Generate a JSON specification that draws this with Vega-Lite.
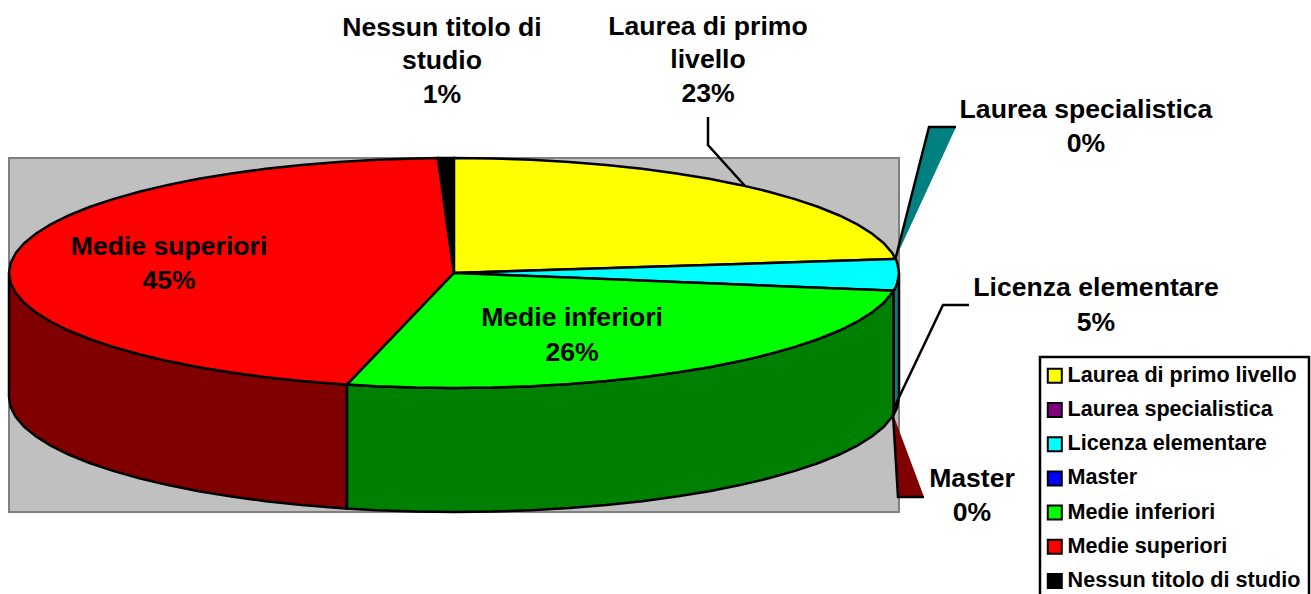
{"$schema":"https://vega.github.io/schema/vega-lite/v6.json","width":1311,"height":594,"padding":0,"autosize":{"type":"none"},"background":"white","view":{"stroke":null},
"datasets":{
"frame":[{"x":9,"x2":899,"y":158,"y2":512}],
"legendBox":[{"x":1040,"x2":1309,"y":357,"y2":600}],
"tops":[
{"part":"Medie superiori","x":9,"y":273,"y2":273},{"part":"Medie superiori","x":10.7,"y":263,"y2":283},{"part":"Medie superiori","x":15.8,"y":253,"y2":293},{"part":"Medie superiori","x":24.2,"y":243.2,"y2":302.8},{"part":"Medie superiori","x":35.8,"y":233.7,"y2":312.3},{"part":"Medie superiori","x":50.7,"y":224.4,"y2":321.6},{"part":"Medie superiori","x":68.6,"y":215.5,"y2":330.5},{"part":"Medie superiori","x":89.5,"y":207,"y2":339},{"part":"Medie superiori","x":113.1,"y":199.1,"y2":346.9},{"part":"Medie superiori","x":139.3,"y":191.7,"y2":354.3},{"part":"Medie superiori","x":168,"y":184.9,"y2":361.1},{"part":"Medie superiori","x":198.8,"y":178.8,"y2":367.2},{"part":"Medie superiori","x":231.5,"y":173.4,"y2":372.6},{"part":"Medie superiori","x":265.9,"y":168.8,"y2":377.2},{"part":"Medie superiori","x":301.8,"y":164.9,"y2":381.1},{"part":"Medie superiori","x":338.8,"y":161.9,"y2":384.1},{"part":"Medie superiori","x":347,"y":161.4,"y2":384.6},{"part":"Medie superiori","x":376.7,"y":159.7,"y2":353.6},{"part":"Medie superiori","x":415.2,"y":158.4,"y2":313.5},{"part":"Medie superiori","x":438,"y":158.1,"y2":289.7},{"part":"Medie superiori","x":454,"y":273,"y2":273},
{"part":"Nessun titolo di studio","x":438,"y":158.1,"y2":158.1},{"part":"Nessun titolo di studio","x":454,"y":158,"y2":273},
{"part":"Laurea di primo livello","x":454,"y":158,"y2":273},{"part":"Laurea di primo livello","x":492.8,"y":158.4,"y2":271.8},{"part":"Laurea di primo livello","x":531.3,"y":159.7,"y2":270.5},{"part":"Laurea di primo livello","x":569.2,"y":161.9,"y2":269.3},{"part":"Laurea di primo livello","x":606.2,"y":164.9,"y2":268.2},{"part":"Laurea di primo livello","x":642.1,"y":168.8,"y2":267},{"part":"Laurea di primo livello","x":676.5,"y":173.4,"y2":265.9},{"part":"Laurea di primo livello","x":709.2,"y":178.8,"y2":264.9},{"part":"Laurea di primo livello","x":740,"y":184.9,"y2":263.9},{"part":"Laurea di primo livello","x":768.7,"y":191.7,"y2":263},{"part":"Laurea di primo livello","x":794.9,"y":199.1,"y2":262.2},{"part":"Laurea di primo livello","x":818.5,"y":207,"y2":261.4},{"part":"Laurea di primo livello","x":839.4,"y":215.5,"y2":260.8},{"part":"Laurea di primo livello","x":857.3,"y":224.4,"y2":260.2},{"part":"Laurea di primo livello","x":872.2,"y":233.7,"y2":259.7},{"part":"Laurea di primo livello","x":883.8,"y":243.2,"y2":259.4},{"part":"Laurea di primo livello","x":892.2,"y":253,"y2":259.1},{"part":"Laurea di primo livello","x":895.7,"y":259,"y2":259},
{"part":"Licenza elementare","x":454,"y":273,"y2":273},{"part":"Licenza elementare","x":893.7,"y":259.1,"y2":290.7},{"part":"Licenza elementare","x":895.7,"y":259,"y2":287},{"part":"Licenza elementare","x":897.3,"y":263,"y2":283},{"part":"Licenza elementare","x":899,"y":273,"y2":273},
{"part":"Medie inferiori","x":347,"y":384.6,"y2":384.6},{"part":"Medie inferiori","x":376.7,"y":353.6,"y2":386.3},{"part":"Medie inferiori","x":415.2,"y":313.5,"y2":387.6},{"part":"Medie inferiori","x":454,"y":273,"y2":388},{"part":"Medie inferiori","x":492.8,"y":274.6,"y2":387.6},{"part":"Medie inferiori","x":531.3,"y":276.1,"y2":386.3},{"part":"Medie inferiori","x":569.2,"y":277.6,"y2":384.1},{"part":"Medie inferiori","x":606.2,"y":279.1,"y2":381.1},{"part":"Medie inferiori","x":642.1,"y":280.6,"y2":377.2},{"part":"Medie inferiori","x":676.5,"y":282,"y2":372.6},{"part":"Medie inferiori","x":709.2,"y":283.3,"y2":367.2},{"part":"Medie inferiori","x":740,"y":284.5,"y2":361.1},{"part":"Medie inferiori","x":768.7,"y":285.7,"y2":354.3},{"part":"Medie inferiori","x":794.9,"y":286.7,"y2":346.9},{"part":"Medie inferiori","x":818.5,"y":287.7,"y2":339},{"part":"Medie inferiori","x":839.4,"y":288.5,"y2":330.5},{"part":"Medie inferiori","x":857.3,"y":289.2,"y2":321.6},{"part":"Medie inferiori","x":872.2,"y":289.8,"y2":312.3},{"part":"Medie inferiori","x":883.8,"y":290.3,"y2":302.8},{"part":"Medie inferiori","x":893.7,"y":290.7,"y2":290.7}
],
"sides":[
{"part":"Medie superiori","x":9,"y":273,"y2":397},{"part":"Medie superiori","x":10.7,"y":283,"y2":407},{"part":"Medie superiori","x":15.8,"y":293,"y2":417},{"part":"Medie superiori","x":24.2,"y":302.8,"y2":426.8},{"part":"Medie superiori","x":35.8,"y":312.3,"y2":436.3},{"part":"Medie superiori","x":50.7,"y":321.6,"y2":445.6},{"part":"Medie superiori","x":68.6,"y":330.5,"y2":454.5},{"part":"Medie superiori","x":89.5,"y":339,"y2":463},{"part":"Medie superiori","x":113.1,"y":346.9,"y2":470.9},{"part":"Medie superiori","x":139.3,"y":354.3,"y2":478.3},{"part":"Medie superiori","x":168,"y":361.1,"y2":485.1},{"part":"Medie superiori","x":198.8,"y":367.2,"y2":491.2},{"part":"Medie superiori","x":231.5,"y":372.6,"y2":496.6},{"part":"Medie superiori","x":265.9,"y":377.2,"y2":501.2},{"part":"Medie superiori","x":301.8,"y":381.1,"y2":505.1},{"part":"Medie superiori","x":338.8,"y":384.1,"y2":508.1},{"part":"Medie superiori","x":347,"y":384.6,"y2":508.6},
{"part":"Medie inferiori","x":347,"y":384.6,"y2":508.6},{"part":"Medie inferiori","x":376.7,"y":386.3,"y2":510.3},{"part":"Medie inferiori","x":415.2,"y":387.6,"y2":511.6},{"part":"Medie inferiori","x":454,"y":388,"y2":512},{"part":"Medie inferiori","x":492.8,"y":387.6,"y2":511.6},{"part":"Medie inferiori","x":531.3,"y":386.3,"y2":510.3},{"part":"Medie inferiori","x":569.2,"y":384.1,"y2":508.1},{"part":"Medie inferiori","x":606.2,"y":381.1,"y2":505.1},{"part":"Medie inferiori","x":642.1,"y":377.2,"y2":501.2},{"part":"Medie inferiori","x":676.5,"y":372.6,"y2":496.6},{"part":"Medie inferiori","x":709.2,"y":367.2,"y2":491.2},{"part":"Medie inferiori","x":740,"y":361.1,"y2":485.1},{"part":"Medie inferiori","x":768.7,"y":354.3,"y2":478.3},{"part":"Medie inferiori","x":794.9,"y":346.9,"y2":470.9},{"part":"Medie inferiori","x":818.5,"y":339,"y2":463},{"part":"Medie inferiori","x":839.4,"y":330.5,"y2":454.5},{"part":"Medie inferiori","x":857.3,"y":321.6,"y2":445.6},{"part":"Medie inferiori","x":872.2,"y":312.3,"y2":436.3},{"part":"Medie inferiori","x":883.8,"y":302.8,"y2":426.8},{"part":"Medie inferiori","x":893.7,"y":290.7,"y2":414.7},
{"part":"Licenza elementare","x":893.7,"y":290.7,"y2":414.7},{"part":"Licenza elementare","x":897.3,"y":283,"y2":407},{"part":"Licenza elementare","x":899,"y":273,"y2":397}
],
"spikes":[
{"part":"Laurea specialistica","x":895.7,"y":258,"y2":258},{"part":"Laurea specialistica","x":929,"y":127,"y2":185.7},{"part":"Laurea specialistica","x":956,"y":127,"y2":127},
{"part":"Master","x":893,"y":414,"y2":414},{"part":"Master","x":898,"y":427.4,"y2":497},{"part":"Master","x":924,"y":497,"y2":497}
],
"leaders":[
{"id":"Laurea di primo livello","i":1,"x":708,"y":117},{"id":"Laurea di primo livello","i":2,"x":708,"y":145},{"id":"Laurea di primo livello","i":3,"x":745,"y":186},
{"id":"Laurea specialistica","i":1,"x":895.7,"y":258},{"id":"Laurea specialistica","i":2,"x":929,"y":127},{"id":"Laurea specialistica","i":3,"x":956,"y":127},
{"id":"Licenza elementare","i":1,"x":969,"y":305},{"id":"Licenza elementare","i":2,"x":943,"y":305},{"id":"Licenza elementare","i":3,"x":893,"y":410},
{"id":"Master","i":1,"x":893,"y":414},{"id":"Master","i":2,"x":898,"y":497},{"id":"Master","i":3,"x":924,"y":497}
],
"labels":[
{"text":"Nessun titolo di","x":442,"y":28},{"text":"studio","x":442,"y":61},{"text":"1%","x":442,"y":95},
{"text":"Laurea di primo","x":708,"y":27},{"text":"livello","x":708,"y":60},{"text":"23%","x":708,"y":94},
{"text":"Laurea specialistica","x":1086,"y":110},{"text":"0%","x":1086,"y":144},
{"text":"Licenza elementare","x":1096,"y":288},{"text":"5%","x":1096,"y":323},
{"text":"Master","x":972,"y":479},{"text":"0%","x":972,"y":513},
{"text":"Medie superiori","x":169,"y":247},{"text":"45%","x":169,"y":281},
{"text":"Medie inferiori","x":572,"y":318},{"text":"26%","x":572,"y":353}
]},
"encoding":{
"x":{"field":"x","type":"quantitative","scale":{"domain":[0,1311]},"axis":null},
"y":{"field":"y","type":"quantitative","scale":{"domain":[594,0]},"axis":null}
},
"layer":[
{"data":{"name":"frame"},"mark":{"type":"rect","fill":"#c0c0c0","stroke":"#808080","strokeWidth":2},"encoding":{"x2":{"field":"x2"},"y2":{"field":"y2"}}},
{"data":{"name":"legendBox"},"mark":{"type":"rect","fill":"white","stroke":"black","strokeWidth":2.5,"clip":true},"encoding":{"x2":{"field":"x2"},"y2":{"field":"y2"}}},
{"data":{"name":"sides"},"mark":{"type":"area","stroke":"black","strokeWidth":2.5,"opacity":1},"encoding":{"y2":{"field":"y2"},"color":{"field":"part","type":"nominal","legend":null,"scale":{"domain":["Medie superiori","Medie inferiori","Licenza elementare"],"range":["#800000","#008000","#008080"]}}}},
{"data":{"name":"spikes"},"mark":{"type":"area","opacity":1},"encoding":{"y2":{"field":"y2"},"fill":{"field":"part","type":"nominal","legend":null,"scale":{"domain":["Laurea specialistica","Master"],"range":["#008080","#800000"]}}}},
{"data":{"name":"tops"},"mark":{"type":"area","stroke":"black","strokeWidth":2.5,"opacity":1},"encoding":{"y2":{"field":"y2"},"color":{"field":"part","type":"nominal","title":null,
"scale":{"domain":["Laurea di primo livello","Laurea specialistica","Licenza elementare","Master","Medie inferiori","Medie superiori","Nessun titolo di studio"],"range":["#ffff00","#800080","#00ffff","#0000ff","#00ff00","#ff0000","#000000"]},
"legend":{"orient":"none","legendX":1040,"legendY":355,"padding":10,"symbolType":"square","symbolSize":196,"symbolOffset":-6,"symbolStrokeColor":"black","symbolStrokeWidth":2,"symbolOpacity":1,"labelFont":"Liberation Sans","labelFontWeight":"bold","labelFontSize":21.6,"labelColor":"black","labelLimit":300,"rowPadding":11.2,"labelOffset":2}}}},
{"data":{"name":"leaders"},"mark":{"type":"line","color":"black","strokeWidth":2.5},"encoding":{"detail":{"field":"id"},"order":{"field":"i","type":"quantitative"}}},
{"data":{"name":"labels"},"mark":{"type":"text","font":"Liberation Sans","fontWeight":"bold","fontSize":26.6,"color":"black","align":"center","baseline":"middle"},"encoding":{"text":{"field":"text"}}}
],
"resolve":{"scale":{"color":"independent","fill":"independent"}}
}
